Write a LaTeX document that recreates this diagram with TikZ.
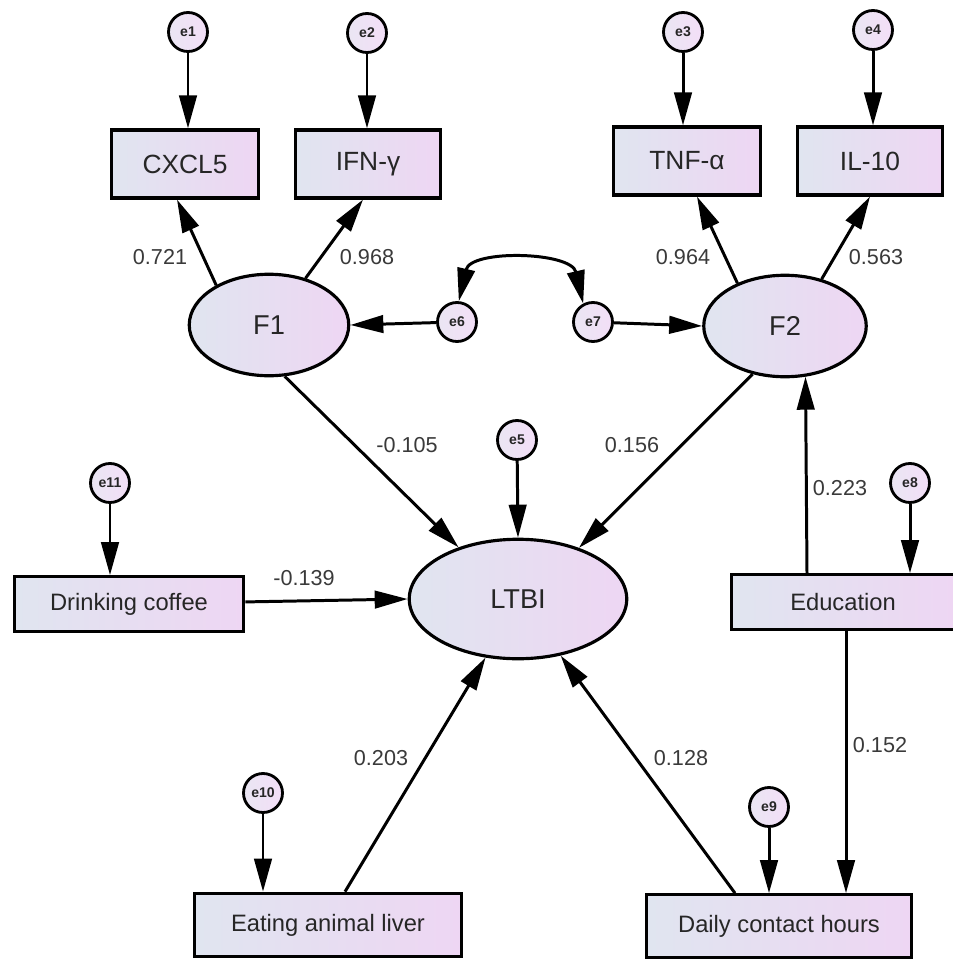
\documentclass[tikz,border=0pt]{standalone}
\usepackage{fontspec}
\setmainfont{Liberation Sans}
\usepackage{tikz}
\usetikzlibrary{arrows.meta,shadings,shapes.geometric}

\definecolor{boxL}{RGB}{224,229,240}
\definecolor{boxR}{RGB}{238,214,243}
\definecolor{errL}{RGB}{234,230,243}
\definecolor{errR}{RGB}{243,222,247}
\definecolor{txt}{RGB}{38,38,38}
\definecolor{lbl}{RGB}{58,58,58}

\tikzset{
  >={Triangle[length=6.6mm,width=3.5mm]},
  obs/.style={draw=black, line width=1.8pt, left color=boxL, right color=boxR,
    minimum height=13.6mm, inner sep=0pt, text=txt, font=\fontsize{13.5}{16}\selectfont},
  top/.style={obs, minimum height=13.6mm, font=\fontsize{15}{18}\selectfont},
  lat/.style={ellipse, draw=black, line width=1.8pt, left color=boxL, right color=boxR,
    inner sep=0pt, text=txt, font=\fontsize{15.5}{18}\selectfont},
  err/.style={circle, draw=black, line width=1.6pt, left color=errL, right color=errR,
    minimum size=7.8mm, inner sep=0pt, text=txt, font=\fontsize{8}{9}\selectfont\bfseries},
  link/.style={->, line width=1.7pt},
  coef/.style={inner sep=0pt, text=lbl, font=\fontsize{12.3}{14}\selectfont}
}

\begin{document}
\begin{tikzpicture}[x=0.2mm,y=-0.2mm]
\useasboundingbox[fill=white] (0,0) rectangle (953,961);

    % indicators
    \node[top, minimum width=29.3mm] (cxcl) at (185,164) {CXCL5};
    \node[top, minimum width=29.1mm] (ifn) at (368,164) {IFN-γ};
    \node[top, minimum width=29.5mm] (tnf) at (687,161) {TNF-α};
    \node[top, minimum width=28.9mm] (il) at (870,161) {IL-10};

    % latent variables
    \node[lat, minimum width=31.9mm, minimum height=20.3mm] (F1) at (269,325) {F1};
    \node[lat, minimum width=32.5mm, minimum height=20.3mm] (F2) at (785,326) {F2};
    \node[lat, minimum width=43.5mm, minimum height=23.9mm] (ltbi) at (518,599) {LTBI};

    % observed factors
    \node[obs, minimum width=45.9mm, minimum height=10.9mm] (coffee) at (129,604) {Drinking coffee};
    \node[obs, minimum width=44.6mm, minimum height=10.9mm] (edu) at (843,602) {Education};
    \node[obs, minimum width=53.5mm, minimum height=12.7mm] (liver) at (328,925) {Eating animal liver};
    \node[obs, minimum width=53.1mm, minimum height=12.5mm] (daily) at (779,926) {Daily contact hours};

    % error terms
    \node[err] (e1) at (188,32) {e1};
    \node[err] (e2) at (367,33) {e2};
    \node[err] (e3) at (683,32) {e3};
    \node[err] (e4) at (873,30) {e4};
    \node[err] (e5) at (517,440) {e5};
    \node[err] (e6) at (457,322) {e6};
    \node[err] (e7) at (593,322) {e7};
    \node[err] (e8) at (910,483) {e8};
    \node[err] (e9) at (769,807) {e9};
    \node[err] (e10) at (263,793) {e10};
    \node[err] (e11) at (110,483) {e11};

    \draw[link] (e1) -- (e1 |- cxcl.north);
    \draw[link] (e2) -- (e2 |- ifn.north);
    \draw[link] (e3) -- (e3 |- tnf.north);
    \draw[link] (e4) -- (e4 |- il.north);
    \draw[link] (e5) -- (ltbi.north);
    \draw[link] (e8) -- (e8 |- edu.north);
    \draw[link] (e9) -- (e9 |- daily.north);
    \draw[link] (e10) -- (e10 |- liver.north);
    \draw[link] (e11) -- (e11 |- coffee.north);

    \draw[link] (F1.143) -- ([xshift=-1.6mm]cxcl.south);
    \draw[link] (F1.52) -- ([xshift=-1mm]ifn.south);
    \draw[link] (F2.138) -- ([xshift=2mm]tnf.south);
    \draw[link] (F2.52) -- (il.south);
    \draw[link] (e6) -- (F1.east);
    \draw[link] (e7) -- (F2.west);
    \draw[<->, line width=1.7pt] (e6.85) .. controls +(12,-52) and +(-12,-52) .. (e7.118);

    \draw[link] (F1.-73) -- (ltbi.139);
    \draw[link] (F2.-124) -- (ltbi.40);
    \draw[link] (coffee) -- (ltbi.west);

    \coordinate (liverT) at ([xshift=3.4mm]liver.north);
    \coordinate (dailyT) at ([xshift=-8.8mm]daily.north);
    \coordinate (eduT) at ([xshift=-7.2mm]edu.north);
    \coordinate (eduB) at ([xshift=0.6mm]edu.south);
    \draw[link] (liverT) -- (ltbi.-119);
    \draw[link] (dailyT) -- (ltbi.-53);
    \draw[link] (eduT) -- (F2.-68);
    \draw[link] (eduB) -- (eduB |- daily.north);

    % coefficients
    \node[coef] (c1) at (160,257) {0.721};
    \node[coef] (c2) at (367,257) {0.968};
    \node[coef] (c3) at (683,257) {0.964};
    \node[coef] (c4) at (876,257) {0.563};
    \node[coef] (c5) at (407,445) {-0.105};
    \node[coef] (c6) at (632,445) {0.156};
    \node[coef] (c7) at (304,578) {-0.139};
    \node[coef] (c8) at (840,488) {0.223};
    \node[coef] (c9) at (880,745) {0.152};
    \node[coef] (c10) at (381,758) {0.203};
    \node[coef] (c11) at (681,758) {0.128};

\end{tikzpicture}
\end{document}
